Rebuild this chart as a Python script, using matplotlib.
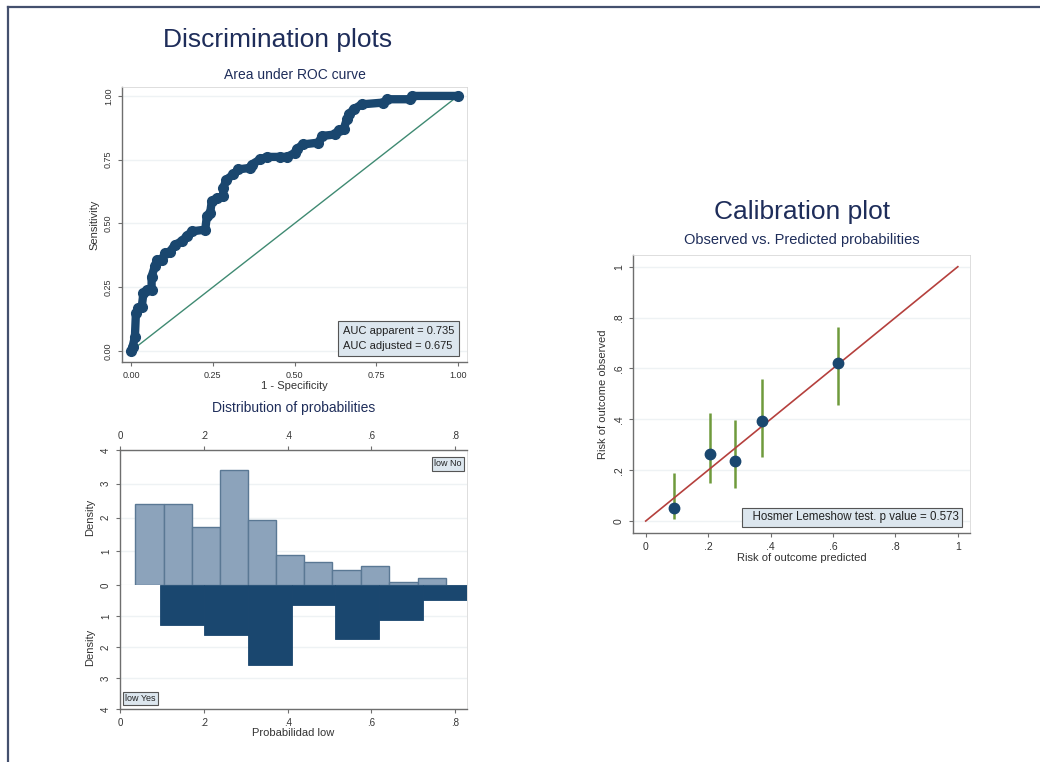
import matplotlib.pyplot as plt
import numpy as np
from matplotlib.lines import Line2D

plt.rcParams['font.family'] = ['Liberation Sans', 'DejaVu Sans']

# ROC curve vertices (1 - specificity, sensitivity)
roc_fpr = [0.0, 0.005, 0.012, 0.015, 0.022, 0.033, 0.038, 0.048, 0.063, 0.063,
           0.073, 0.079, 0.094, 0.104, 0.119, 0.135, 0.155, 0.170, 0.186, 0.227,
           0.232, 0.242, 0.247, 0.262, 0.282, 0.282, 0.292, 0.313, 0.328, 0.364,
           0.369, 0.395, 0.415, 0.456, 0.477, 0.502, 0.507, 0.527, 0.573, 0.584,
           0.624, 0.635, 0.650, 0.660, 0.666, 0.681, 0.706, 0.772, 0.783, 0.854,
           0.859, 1.0]
roc_tpr = [0.0, 0.017, 0.056, 0.148, 0.168, 0.174, 0.227, 0.240, 0.240, 0.292,
           0.332, 0.358, 0.358, 0.384, 0.390, 0.417, 0.430, 0.450, 0.469, 0.476,
           0.528, 0.541, 0.587, 0.600, 0.607, 0.640, 0.672, 0.692, 0.712, 0.718,
           0.731, 0.751, 0.761, 0.761, 0.761, 0.777, 0.793, 0.810, 0.817, 0.843,
           0.849, 0.866, 0.869, 0.908, 0.928, 0.948, 0.967, 0.974, 0.987, 0.987,
           1.0, 1.0]
auc_apparent = 0.735
auc_adjusted = 0.675

# histogram of predicted probabilities
no_edges = [0.036, 0.104, 0.171, 0.239, 0.305, 0.372, 0.439, 0.507, 0.575, 0.642, 0.710, 0.777]
no_density = [2.39, 2.39, 1.71, 3.42, 1.93, 0.90, 0.67, 0.43, 0.55, 0.10, 0.22]
yes_edges = [0.096, 0.200, 0.305, 0.410, 0.513, 0.617, 0.722, 0.827]
yes_density = [1.29, 1.61, 2.58, 0.645, 1.75, 1.13, 0.48]
hist_ticks = [0, 0.2, 0.4, 0.6, 0.8]
hist_ticklabels = ['0', '.2', '.4', '.6', '.8']

# calibration groups
cal_pred = [0.09, 0.206, 0.287, 0.372, 0.615]
cal_obs = [0.052, 0.262, 0.236, 0.394, 0.623]
cal_lo = [0.010, 0.148, 0.128, 0.253, 0.456]
cal_hi = [0.187, 0.423, 0.397, 0.557, 0.761]
hl_pvalue = 0.573
cal_ticks = [0, 0.2, 0.4, 0.6, 0.8, 1]
cal_ticklabels = ['0', '.2', '.4', '.6', '.8', '1']

navy = '#1a476f'
title_col = '#1e2d5a'
axis_col = '#6e6e6e'
grid_col = '#eef2f4'
box_fc = '#dce6ee'


def style_axes(ax):
    for s in ax.spines.values():
        s.set_color('#d8d8d8')
        s.set_linewidth(0.6)
    ax.spines['left'].set_color(axis_col)
    ax.spines['left'].set_linewidth(1.0)
    ax.tick_params(colors=axis_col, labelcolor='#333333', labelsize=7, length=3, width=0.8)
    ax.grid(axis='y', color=grid_col, lw=1.0)
    ax.set_axisbelow(True)


fig = plt.figure(figsize=(10.4, 7.62), dpi=100)

# frame of the slide
fig.add_artist(Line2D([8 / 1040, 1], [1 - 7 / 762, 1 - 7 / 762], color='#44506e', lw=1.6))
fig.add_artist(Line2D([8 / 1040, 8 / 1040], [0, 1 - 7 / 762], color='#44506e', lw=1.6))

fig.text(278 / 1040, 1 - 40 / 762, 'Discrimination plots', fontsize=19, color=title_col,
         ha='center', va='center')
fig.text(802 / 1040, 1 - 212 / 762, 'Calibration plot', fontsize=19, color=title_col,
         ha='center', va='center')

# ---- ROC ----
ax = fig.add_axes([122 / 1040, 1 - 362 / 762, 345 / 1040, 275 / 762])
style_axes(ax)
ax.spines['bottom'].set_color(axis_col)
ax.spines['bottom'].set_linewidth(1.0)
ax.plot([0, 1], [0, 1], color='#3f8a72', lw=1.0, zorder=2)
ax.plot(roc_fpr, roc_tpr, color=navy, lw=6, solid_joinstyle='round',
        solid_capstyle='round', marker='o', ms=7, zorder=3)
ax.set_xlim(-0.0275, 1.0275)
ax.set_ylim(-0.043, 1.035)
ticks = [0, 0.25, 0.5, 0.75, 1.0]
ax.set_xticks(ticks)
ax.set_xticklabels(['%.2f' % t for t in ticks], fontsize=6.5)
ax.set_yticks(ticks)
ax.set_yticklabels(['%.2f' % t for t in ticks], fontsize=6.5, rotation=90, va='center')
ax.set_xlabel('1 - Specificity', fontsize=8, color='#333333', labelpad=1)
ax.set_ylabel('Sensitivity', fontsize=8, color='#333333', labelpad=3)
ax.set_title('Area under ROC curve', fontsize=10, color=title_col, pad=6)
ax.text(0.64, 0.04, 'AUC apparent = %.3f\nAUC adjusted = %.3f' % (auc_apparent, auc_adjusted),
        transform=ax.transAxes, ha='left', va='bottom', fontsize=8, color='#222222',
        linespacing=1.65, multialignment='left',
        bbox=dict(boxstyle='square,pad=0.45', fc=box_fc, ec='#555555', lw=0.8))

# ---- histogram, low = No ----
axt = fig.add_axes([120 / 1040, 1 - 585 / 762, 347 / 1040, 135 / 762])
style_axes(axt)
axt.spines['top'].set_color(axis_col)
axt.spines['top'].set_linewidth(1.0)
axt.spines['bottom'].set_visible(False)
axt.bar(no_edges[:-1], no_density, width=np.diff(no_edges), align='edge',
        color='#8ca3bb', edgecolor='#5a7894', lw=1.0, zorder=2)
axt.set_xlim(0, 0.828)
axt.set_ylim(0, 4)
axt.xaxis.tick_top()
axt.set_xticks(hist_ticks)
axt.set_xticklabels(hist_ticklabels, fontsize=7)
axt.set_yticks([0, 1, 2, 3, 4])
axt.set_yticklabels(['0', '1', '2', '3', '4'], rotation=90, va='center')
axt.set_ylabel('Density', fontsize=8, color='#333333', labelpad=4)
axt.set_title('Distribution of probabilities', fontsize=10, color=title_col, pad=14)
axt.text(0.985, 0.93, 'low No', transform=axt.transAxes, ha='right', va='top', fontsize=6.5,
         color='#222222', bbox=dict(boxstyle='square,pad=0.25', fc=box_fc, ec='#555555', lw=0.8))

# ---- histogram, low = Yes ----
axb = fig.add_axes([120 / 1040, 1 - 709 / 762, 347 / 1040, 124 / 762])
style_axes(axb)
axb.spines['bottom'].set_color(axis_col)
axb.spines['bottom'].set_linewidth(1.0)
axb.spines['top'].set_visible(False)
axb.bar(yes_edges[:-1], yes_density, width=np.diff(yes_edges), align='edge',
        color=navy, edgecolor=navy, lw=0.6, zorder=2)
axb.set_xlim(0, 0.828)
axb.set_ylim(4, 0)
axb.set_xticks(hist_ticks)
axb.set_xticklabels(hist_ticklabels, fontsize=7)
axb.set_yticks([1, 2, 3, 4])
axb.set_yticklabels(['1', '2', '3', '4'], rotation=90, va='center')
axb.set_ylabel('Density', fontsize=8, color='#333333', labelpad=4)
axb.set_xlabel('Probabilidad low', fontsize=8, color='#333333', labelpad=0)
axb.text(0.015, 0.05, 'low Yes', transform=axb.transAxes, ha='left', va='bottom', fontsize=6.5,
         color='#222222', bbox=dict(boxstyle='square,pad=0.25', fc=box_fc, ec='#555555', lw=0.8))

# ---- calibration ----
axc = fig.add_axes([633 / 1040, 1 - 533 / 762, 337 / 1040, 278 / 762])
style_axes(axc)
axc.spines['bottom'].set_color(axis_col)
axc.spines['bottom'].set_linewidth(1.0)
axc.vlines(cal_pred, cal_lo, cal_hi, color='#6f9a3c', lw=1.8, zorder=2)
axc.plot([0, 1], [0, 1], color='#b5403d', lw=1.2, zorder=3)
axc.plot(cal_pred, cal_obs, 'o', color=navy, ms=7.5, zorder=4)
axc.set_xlim(-0.0407, 1.039)
axc.set_ylim(-0.047, 1.046)
axc.set_xticks(cal_ticks)
axc.set_xticklabels(cal_ticklabels, fontsize=7.5)
axc.set_yticks(cal_ticks)
axc.set_yticklabels(cal_ticklabels, fontsize=7.5, rotation=90, va='center')
axc.set_xlabel('Risk of outcome predicted', fontsize=8, color='#333333', labelpad=1)
axc.set_ylabel('Risk of outcome observed', fontsize=8, color='#333333', labelpad=4)
axc.set_title('Observed vs. Predicted probabilities', fontsize=10.5, color=title_col, pad=8)
axc.text(0.335, 0.035, '  Hosmer Lemeshow test. p value = %.3f' % hl_pvalue,
         transform=axc.transAxes, ha='left', va='bottom', fontsize=8.3, color='#222222',
         bbox=dict(boxstyle='square,pad=0.3', fc=box_fc, ec='#555555', lw=0.8))

fig.savefig('out.png', dpi=100)
